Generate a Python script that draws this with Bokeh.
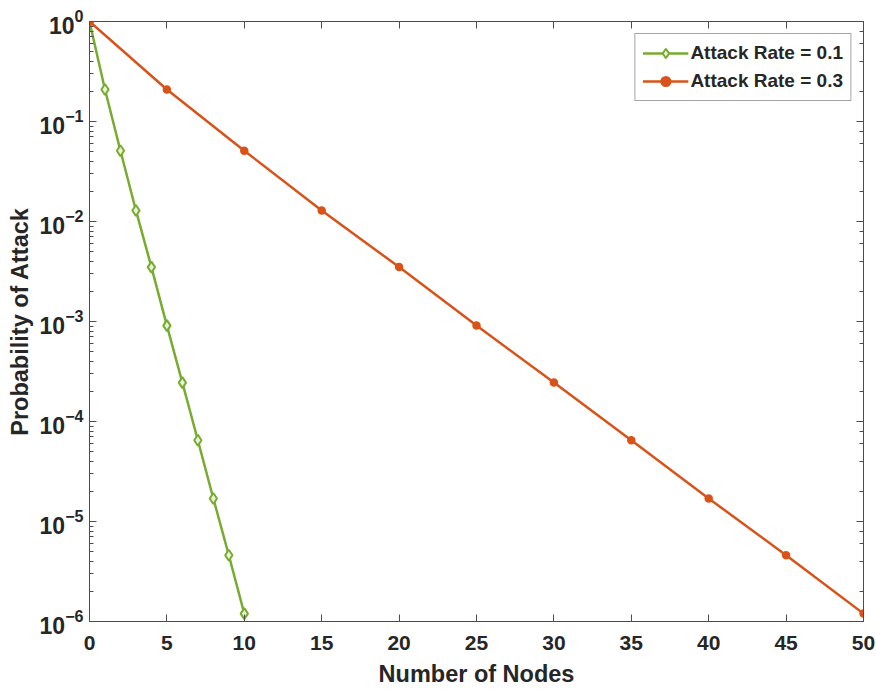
from bokeh.plotting import figure
from bokeh.models import LogAxis, LinearAxis, Legend, LegendItem, Range1d, FixedTicker
from bokeh.embed import file_html
from bokeh.resources import INLINE

# Node counts for each attack rate
nodes_r01 = [0, 1, 2, 3, 4, 5, 6, 7, 8, 9, 10]
nodes_r03 = [0, 5, 10, 15, 20, 25, 30, 35, 40, 45, 50]

# Probability of a successful attack
prob_r01 = [1.0, 0.209, 0.051, 0.0129, 0.0035, 0.00091, 0.000245, 6.5e-5, 1.7e-5, 4.6e-6, 1.2e-6]
prob_r03 = [1.0, 0.209, 0.051, 0.0129, 0.0035, 0.00091, 0.000245, 6.5e-5, 1.7e-5, 4.6e-6, 1.2e-6]

x_ticks = [0, 5, 10, 15, 20, 25, 30, 35, 40, 45, 50]

GREEN = "#77AC30"
ORANGE = "#D95319"
AXIS = "#4d4d4d"
TEXT = "#262626"
FONT = "Liberation Sans"

p = figure(width=876, height=690, output_backend="svg", toolbar_location=None,
           y_axis_type="log", x_range=Range1d(0, 50), y_range=Range1d(1e-6, 1),
           min_border_left=89, min_border_right=13, min_border_top=21, min_border_bottom=69)
p.xgrid.visible = False
p.ygrid.visible = False
p.outline_line_color = AXIS
p.outline_line_width = 1
p.background_fill_color = "white"
p.border_fill_color = "white"

def style_axis(ax, size="21px", labels=True):
    ax.axis_line_color = AXIS
    ax.major_tick_line_color = AXIS
    ax.minor_tick_line_color = AXIS
    ax.major_tick_in = 7
    ax.major_tick_out = 0
    ax.minor_tick_in = 4
    ax.minor_tick_out = 0
    ax.major_label_text_font = FONT
    ax.major_label_text_font_style = "bold"
    ax.major_label_text_font_size = size
    ax.major_label_text_color = TEXT
    if not labels:
        ax.major_label_text_font_size = "0px"
        ax.major_label_text_alpha = 0

xax = p.xaxis[0]
style_axis(xax, "21px")
xax.ticker = FixedTicker(ticks=x_ticks)
xax.axis_label = "Number of Nodes"
xax.major_label_standoff = 14
yax = p.yaxis[0]
style_axis(yax, "23px")
yax.axis_label = "Probability of Attack"
yax.major_label_standoff = 6
for ax in (xax, yax):
    ax.axis_label_text_font = FONT
    ax.axis_label_text_font_style = "bold"
    ax.axis_label_text_font_size = "23.5px"
    ax.axis_label_text_color = TEXT
xax.axis_label_standoff = 8
yax.axis_label_standoff = 4

top = LinearAxis(ticker=FixedTicker(ticks=x_ticks))
style_axis(top, labels=False)
top.axis_label = None
p.add_layout(top, "above")
right = LogAxis()
style_axis(right, labels=False)
p.add_layout(right, "right")

l1 = p.line(nodes_r01, prob_r01, line_color=GREEN, line_width=2.5)
s1 = p.scatter(nodes_r01, prob_r01, marker="diamond", size=11, line_color=GREEN,
               line_width=2, fill_color="#e8f3d8")
l2 = p.line(nodes_r03, prob_r03, line_color=ORANGE, line_width=2.5)
s2 = p.scatter(nodes_r03, prob_r03, marker="circle", size=7, line_color=ORANGE,
               line_width=1.5, fill_color=ORANGE)

legend = Legend(items=[
    LegendItem(label="Attack Rate = 0.1", renderers=[l1, s1]),
    LegendItem(label="Attack Rate = 0.3", renderers=[l2, s2]),
], location="top_right")
legend.label_text_font = FONT
legend.label_text_font_style = "bold"
legend.label_text_font_size = "19px"
legend.label_text_color = TEXT
legend.border_line_color = AXIS
legend.border_line_width = 1
legend.glyph_width = 46
legend.glyph_height = 24
legend.label_standoff = 2
legend.spacing = 4
legend.padding = 7
legend.margin = 12
p.add_layout(legend)

open("out.html", "w").write(file_html(p, INLINE))
